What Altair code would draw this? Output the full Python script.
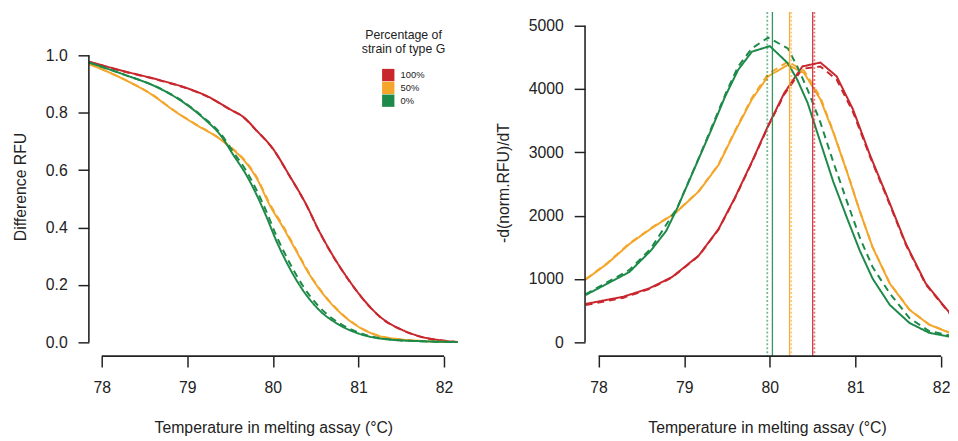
import altair as alt
import pandas as pd

FONT = "Liberation Sans"
INK = "#222222"

groups = ["100%", "50%", "0%"]
colors = ["#C8272D", "#F4A62A", "#1E8A4A"]
kinds = ["solid", "dashed"]
dashes = [[1, 0], [7, 5]]

x_ticks = [78, 79, 80, 81, 82]
left_y_ticks = [0.0, 0.2, 0.4, 0.6, 0.8, 1.0]
right_y_ticks = [0, 1000, 2000, 3000, 4000, 5000]

left_xdom = [77.850, 82.161]
left_ydom = [-0.0481, 1.1512]
right_xdom = [77.842, 82.092]
right_ydom = [-218, 5218]

# ---------------- Left panel: Difference RFU ----------------
l_red_T = [77.85, 78.27, 78.66, 79.04, 79.23, 79.50, 79.66, 79.81, 80.00, 80.19,
           80.39, 80.54, 80.69, 80.89, 81.08, 81.27, 81.50, 81.73, 81.96, 82.16]
l_red_v = [0.978, 0.944, 0.915, 0.881, 0.858, 0.812, 0.784, 0.738, 0.675, 0.583,
           0.480, 0.388, 0.308, 0.216, 0.142, 0.085, 0.045, 0.020, 0.007, 0.001]
l_red_dash_v = [0.977, 0.943, 0.914, 0.880, 0.857, 0.811, 0.783, 0.737, 0.674, 0.582,
                0.479, 0.387, 0.307, 0.215, 0.141, 0.084, 0.044, 0.019, 0.007, 0.001]

l_orange_T = [77.85, 78.27, 78.58, 78.85, 79.12, 79.35, 79.50, 79.66, 79.81, 79.96,
              80.12, 80.27, 80.42, 80.58, 80.77, 80.96, 81.19, 81.50, 81.80, 82.16]
l_orange_v = [0.970, 0.915, 0.864, 0.806, 0.755, 0.715, 0.680, 0.635, 0.572, 0.480,
              0.400, 0.320, 0.240, 0.171, 0.108, 0.062, 0.027, 0.010, 0.004, 0.001]
l_orange_dash_v = [0.970, 0.915, 0.865, 0.807, 0.756, 0.716, 0.682, 0.638, 0.576, 0.485,
                   0.405, 0.324, 0.243, 0.173, 0.109, 0.063, 0.028, 0.010, 0.004, 0.001]

l_green_T = [77.85, 78.27, 78.66, 78.96, 79.20, 79.39, 79.54, 79.69, 79.81, 79.93,
             80.04, 80.19, 80.35, 80.54, 80.77, 81.04, 81.35, 81.73, 82.16]
l_green_v = [0.975, 0.932, 0.887, 0.835, 0.778, 0.721, 0.652, 0.583, 0.514, 0.434,
             0.354, 0.262, 0.182, 0.113, 0.062, 0.027, 0.010, 0.004, 0.001]
l_green_dash_v = [0.975, 0.932, 0.888, 0.837, 0.781, 0.727, 0.662, 0.597, 0.530, 0.452,
                  0.372, 0.280, 0.197, 0.124, 0.068, 0.030, 0.011, 0.004, 0.001]

# ---------------- Right panel: -d(norm.RFU)/dT ----------------
r_green_T = [77.85, 78.36, 78.61, 78.79, 78.92, 79.17, 79.32, 79.48, 79.63, 79.79,
             80.00, 80.21, 80.32, 80.44, 80.59, 80.74, 80.90, 81.05, 81.20, 81.40,
             81.63, 81.86, 82.10]
r_green_v = [748, 1111, 1449, 1760, 2123, 2902, 3369, 3889, 4304, 4590,
             4678, 4408, 4148, 3785, 3162, 2539, 1967, 1449, 1007, 592,
             307, 151, 89]
r_green_dash_T = [77.85, 78.36, 78.61, 78.92, 79.17, 79.48, 79.63, 79.79, 79.98, 80.21,
                  80.32, 80.44, 80.59, 80.74, 80.90, 81.05, 81.20, 81.40, 81.63, 81.86,
                  82.10]
r_green_dash_v = [760, 1143, 1480, 2130, 2910, 3915, 4356, 4642, 4813, 4642,
                  4356, 3992, 3474, 2850, 2227, 1656, 1188, 774, 384, 177,
                  110]

r_orange_T = [77.85, 78.10, 78.36, 78.63, 78.90, 79.17, 79.40, 79.59, 79.79, 79.98,
              80.21, 80.40, 80.59, 80.74, 80.90, 81.05, 81.20, 81.40, 81.63, 81.86,
              82.10]
r_orange_v = [992, 1241, 1553, 1812, 2045, 2383, 2799, 3318, 3837, 4201,
              4382, 4252, 3837, 3318, 2695, 2072, 1500, 930, 514, 280,
              151]
r_orange_dash_v = [1000, 1250, 1565, 1820, 2050, 2390, 2810, 3335, 3860, 4240,
                   4430, 4290, 3870, 3330, 2700, 2075, 1505, 935, 518, 283,
                   153]

r_red_T = [77.85, 78.29, 78.59, 78.86, 79.17, 79.40, 79.59, 79.79, 79.98, 80.17,
           80.38, 80.59, 80.78, 80.97, 81.17, 81.36, 81.59, 81.82, 82.10]
r_red_v = [607, 721, 852, 1033, 1371, 1787, 2279, 2850, 3422, 3941,
           4357, 4419, 4201, 3681, 2955, 2332, 1553, 930, 463]
r_red_dash_v = [590, 705, 840, 1025, 1365, 1780, 2270, 2840, 3410, 3920,
                4320, 4357, 4150, 3640, 2930, 2310, 1535, 915, 455]

# melting temperatures (vertical lines)
tm_groups = ["100%", "50%", "0%"]
tm_solid_T = [80.50, 80.23, 80.03]
tm_dotted_T = [80.52, 80.25, 79.97]


def series(group, kind, T, v):
    return pd.DataFrame({"T": T, "v": v, "group": group, "kind": kind})


left_df = pd.concat([
    series("100%", "solid", l_red_T, l_red_v),
    series("100%", "dashed", l_red_T, l_red_dash_v),
    series("50%", "solid", l_orange_T, l_orange_v),
    series("50%", "dashed", l_orange_T, l_orange_dash_v),
    series("0%", "solid", l_green_T, l_green_v),
    series("0%", "dashed", l_green_T, l_green_dash_v),
], ignore_index=True)

right_df = pd.concat([
    series("100%", "solid", r_red_T, r_red_v),
    series("100%", "dashed", r_red_T, r_red_dash_v),
    series("50%", "solid", r_orange_T, r_orange_v),
    series("50%", "dashed", r_orange_T, r_orange_dash_v),
    series("0%", "solid", r_green_T, r_green_v),
    series("0%", "dashed", r_green_dash_T, r_green_dash_v),
], ignore_index=True)

tm_solid_df = pd.DataFrame({"T": tm_solid_T, "group": tm_groups})
tm_dotted_df = pd.DataFrame({"T": tm_dotted_T, "group": tm_groups})

XTITLE = "Temperature in melting assay (°C)"
cscale = alt.Scale(domain=groups, range=colors)
dscale = alt.Scale(domain=kinds, range=dashes)


def xenc(dom):
    return alt.X("T:Q", scale=alt.Scale(domain=dom, nice=False, zero=False),
                 axis=alt.Axis(values=x_ticks, format="d", title=XTITLE,
                               labelPadding=13, titlePadding=24, labelFlush=False))


def yenc(dom, ticks, fmt, title, title_y):
    return alt.Y("v:Q", scale=alt.Scale(domain=dom, nice=False, zero=False),
                 axis=alt.Axis(values=ticks, format=fmt, title=title, titleY=title_y,
                               labelPadding=11, titlePadding=17, labelFlush=False))


def panel(df, xdom, ydom, yticks, fmt, ytitle, title_y, w, with_legend, interp,
          extra_layers):
    X = xenc(xdom)
    Y = yenc(ydom, yticks, fmt, ytitle, title_y)
    layers = []
    if with_legend:
        leg = alt.Chart(df).mark_square(opacity=0, size=1).encode(
            x=X, y=Y,
            color=alt.Color("group:N", scale=cscale, legend=alt.Legend(
                title=["Percentage of", "strain of type G"], orient="none",
                legendX=277, legendY=17, symbolType="square", symbolSize=156,
                symbolStrokeWidth=0, symbolOpacity=1, labelFont=FONT,
                labelFontSize=9.5, labelColor=INK, labelOffset=6,
                titleFont=FONT, titleFontSize=12.5, titleFontWeight="normal",
                titleColor=INK, titleAlign="center", titleAnchor="middle",
                titleLineHeight=15, titlePadding=13, rowPadding=0, padding=0)),
        )
        layers.append(leg)
    lines = alt.Chart(df).mark_line(strokeWidth=2, clip=True, interpolate=interp).encode(
        x=X, y=Y,
        color=alt.Color("group:N", scale=cscale),
        strokeDash=alt.StrokeDash("kind:N", scale=dscale, legend=None),
    )
    xline_df = pd.DataFrame({"T": [x_ticks[0]], "T2": [x_ticks[-1]], "v": [ydom[0]]})
    yline_df = pd.DataFrame({"T": [xdom[0]], "v": [yticks[0]], "v2": [yticks[-1]]})
    xline = alt.Chart(xline_df).mark_rule(color=INK, strokeWidth=1.6).encode(
        x=X, x2="T2:Q", y=Y)
    yline = alt.Chart(yline_df).mark_rule(color=INK, strokeWidth=1.6).encode(
        x=X, y=Y, y2="v2:Q")
    layers += [lines] + [mk(X) for mk in extra_layers] + [xline, yline]
    return alt.layer(*layers).properties(width=w, height=349)


def tm_solid(X):
    return alt.Chart(tm_solid_df).mark_rule(strokeWidth=1.3, opacity=0.9).encode(
        x=X, color=alt.Color("group:N", scale=cscale, legend=None))


def tm_dotted(X):
    return alt.Chart(tm_dotted_df).mark_rule(strokeWidth=1.8, opacity=0.6,
                                             strokeDash=[2, 2]).encode(
        x=X, color=alt.Color("group:N", scale=cscale, legend=None))


left = panel(left_df, left_xdom, left_ydom, left_y_ticks, ".1f", "Difference RFU",
             177, 374, True, "monotone", [])
right = panel(right_df, right_xdom, right_ydom, right_y_ticks, "d", "-d(norm.RFU)/dT",
              173, 369, False, "linear", [tm_solid, tm_dotted])

chart = alt.hconcat(left, right, spacing=37).resolve_scale(
    color="independent", strokeDash="independent"
).resolve_legend(color="independent").properties(
    padding={"left": 4, "top": 0, "right": 0, "bottom": 0},
    background="white",
).configure_view(stroke=None).configure_axis(
    domain=False, grid=False, ticks=True, tickSize=11, tickWidth=1.5,
    tickColor=INK, labelFont=FONT, labelFontSize=16, labelColor=INK,
    titleFont=FONT, titleFontSize=16, titleFontWeight="normal", titleColor=INK,
)

chart.save("out.html", embed_options={"renderer": "svg", "actions": False})
